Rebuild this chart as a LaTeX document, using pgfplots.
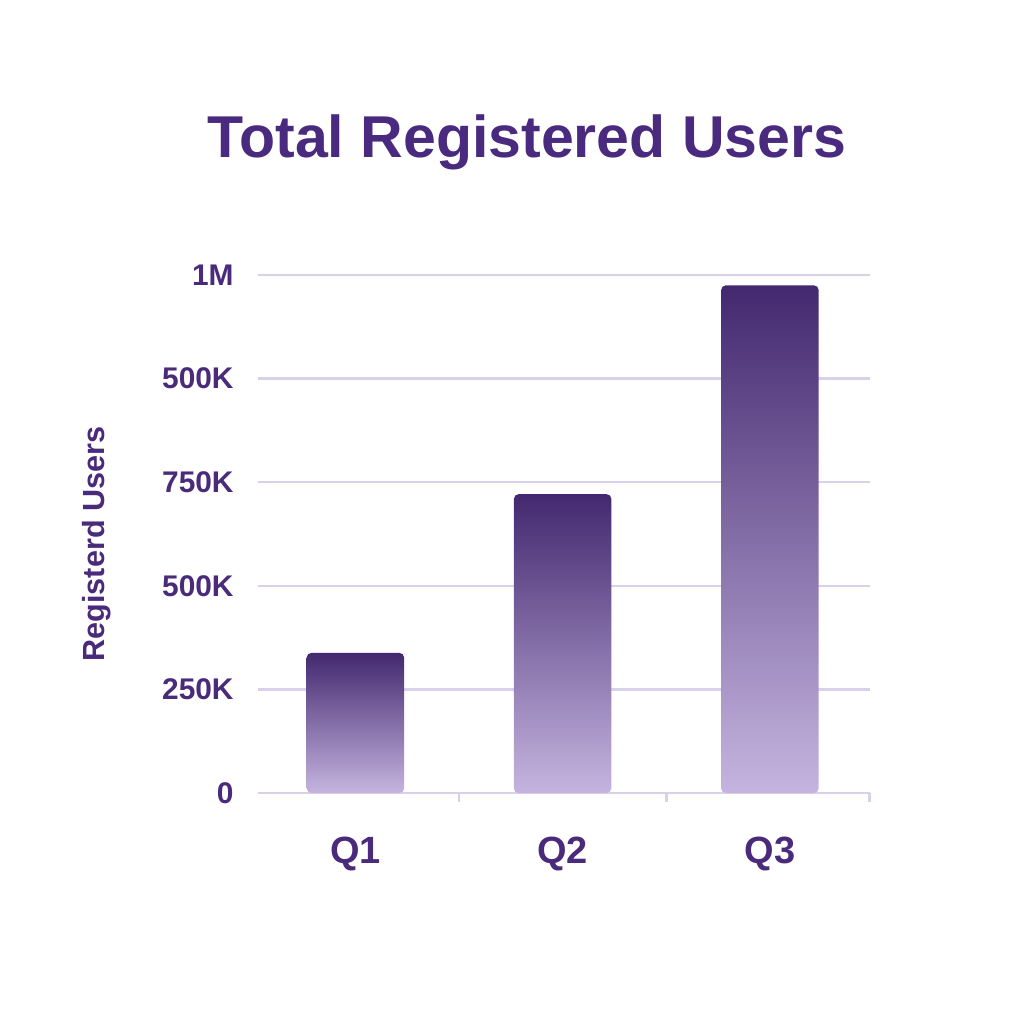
\documentclass[border=0pt]{standalone}
\usepackage{pgfplots}
\pgfplotsset{compat=1.18}
\usepackage{fontspec}
\setmainfont{Liberation Sans}
\definecolor{titlec}{HTML}{4A2A7E}
\definecolor{labc}{HTML}{4A2A7A}
\definecolor{gridc}{HTML}{D9D0EA}
\definecolor{bartop}{HTML}{43286F}
\definecolor{barbot}{HTML}{C5B4DF}
\begin{document}
\begin{tikzpicture}
\path[use as bounding box] (-2.58,-2.31) rectangle (7.66,7.93);
\begin{axis}[
  at={(0,0)}, anchor=south west,
  scale only axis, width=6.12cm, height=5.18cm,
  xmin=-0.47, xmax=2.483, ymin=0, ymax=1250,
  axis lines*=left,
  y axis line style={draw=none},
  x axis line style={draw=gridc, line width=0.7pt},
  ytick={0,250,500,750,1000,1250},
  yticklabels={0,250K,500K,750K,500K,1M},
  ymajorgrids, grid style={draw=gridc, line width=0.7pt},
  ytick style={draw=none},
  xtick={0,1,2}, xticklabels={Q1,Q2,Q3},
  xtick style={draw=none},
  extra x ticks={0.5,1.5,2.48}, extra x tick labels={},
  extra x tick style={major tick length=0.09cm, tick align=outside, xtick style={draw=gridc, line width=0.7pt}, grid=none},
  yticklabel style={font=\bfseries\fontsize{8.5}{10}\selectfont, color=labc, xshift=-0.12cm},
  xticklabel style={font=\bfseries\fontsize{10.8}{12}\selectfont, color=labc, yshift=-0.32cm},
  /pgf/number format/assume math mode=true,
  no markers,
  every axis plot/.append style={ybar, bar width=0.47, bar shift=0pt, draw=none, mark=none, rounded corners=1.3pt, top color=bartop, bottom color=barbot},
]
\addplot coordinates {(0,338)};
\addplot coordinates {(1,721)};
\addplot coordinates {(2,1225)};
\end{axis}
\node[font=\bfseries\fontsize{16.8}{18}\selectfont, color=titlec] at (2.69,6.51) {Total Registered Users};
\node[rotate=90, font=\bfseries\fontsize{8.7}{10}\selectfont, color=labc] at (-1.61,2.49) {Registerd Users};
\end{tikzpicture}
\end{document}
